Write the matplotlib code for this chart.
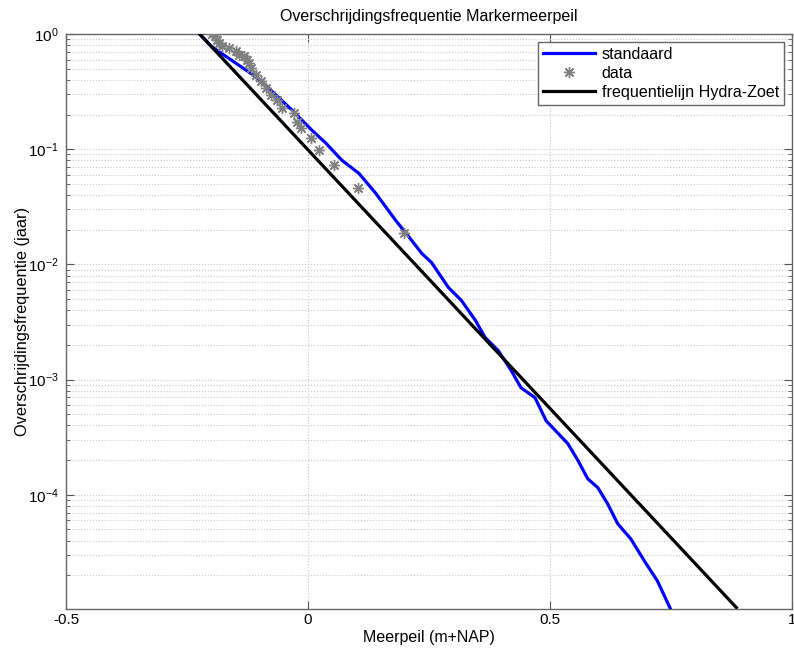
#!/usr/bin/env python3
# -*- coding: utf-8 -*-
'''
Overschrijdingsfrequentie Markermeerpeil
'''
import matplotlib
matplotlib.use("Agg")
import matplotlib.pyplot as plt
from matplotlib.ticker import FixedLocator, LogLocator, NullFormatter
import numpy as np

#************************************
# Data
#************************************
# standaard (blue), x in m+NAP, log10 of frequentie
std_x = [-0.224, -0.198, -0.107, -0.066, -0.033, 0.008, 0.037, 0.070, 0.105,
         0.140, 0.181, 0.214, 0.235, 0.255, 0.276, 0.290, 0.317, 0.346,
         0.366, 0.393, 0.420, 0.440, 0.469, 0.492, 0.537, 0.558, 0.578,
         0.599, 0.619, 0.640, 0.667, 0.695, 0.722, 0.749]
std_lf = [0.0, -0.113, -0.374, -0.530, -0.661, -0.835, -0.948, -1.096, -1.209,
          -1.383, -1.617, -1.791, -1.904, -1.983, -2.113, -2.200, -2.313, -2.487,
          -2.635, -2.748, -2.922, -3.070, -3.157, -3.357, -3.557, -3.704, -3.861,
          -3.939, -4.078, -4.252, -4.383, -4.574, -4.748, -4.991]

# data (grey asterisks)
data_x = [-0.198, -0.193, -0.189, -0.183, -0.177, -0.163, -0.148, -0.142, -0.132,
          -0.126, -0.121, -0.117, -0.107, -0.097, -0.086, -0.076, -0.064, -0.053,
          -0.029, -0.023, -0.014, 0.006, 0.023, 0.053, 0.103, 0.198]
data_lf = [0.0, -0.017, -0.052, -0.078, -0.104, -0.122, -0.148, -0.183, -0.191,
           -0.226, -0.252, -0.296, -0.357, -0.409, -0.470, -0.530, -0.574, -0.643,
           -0.687, -0.765, -0.817, -0.904, -1.009, -1.139, -1.339, -1.730]

# frequentielijn Hydra-Zoet (black), end points
hz_x = [-0.224, 0.885]
hz_f = [1.0, 1.05e-5]

#************************************
# Plot
#************************************
def main():
    plt.rcParams['font.family'] = ['Liberation Sans', 'DejaVu Sans']
    plt.rcParams['font.size'] = 11

    fig = plt.figure(figsize=(7.94, 6.55), dpi=100)
    ax = fig.add_axes([66/794, 1-609/655, (792-66)/794, (609-34)/655])

    ax.plot(std_x, 10**np.array(std_lf), color=(0, 0, 1), lw=2.3,
            label='standaard', zorder=3)
    ax.plot(data_x, 10**np.array(data_lf), ls='none', marker=(8, 2, 0),
            ms=8, mec=(0.5, 0.5, 0.5), mew=1.0, color=(0.5, 0.5, 0.5),
            label='data', zorder=4)
    ax.plot(hz_x, hz_f, color='k', lw=2.3, label='frequentielijn Hydra-Zoet',
            zorder=5)

    ax.set_yscale('log')
    ax.set_xlim(-0.5, 1)
    ax.set_ylim(1.02e-5, 1)
    ax.set_xticks([-0.5, 0, 0.5, 1])
    ax.set_xticklabels(['-0.5', '0', '0.5', '1'])
    ax.yaxis.set_major_locator(FixedLocator([1e-4, 1e-3, 1e-2, 1e-1, 1e0]))
    ax.yaxis.set_minor_locator(LogLocator(base=10, subs=np.arange(2, 10)))
    ax.yaxis.set_minor_formatter(NullFormatter())

    ax.grid(True, which='major', axis='both', color='#c8c8c8', ls=':', lw=0.8)
    ax.grid(True, which='minor', axis='y', color='#c8c8c8', ls=':', lw=0.8)
    ax.set_axisbelow(True)

    ax.tick_params(which='both', direction='in', top=True, right=True,
                   color='#555555', labelsize=11)
    ax.tick_params(axis='x', pad=3)
    ax.tick_params(axis='y', pad=5)
    ax.tick_params(which='major', length=6)
    ax.tick_params(which='minor', length=3)
    for s in ax.spines.values():
        s.set_color('#666666')
        s.set_linewidth(1.0)

    ax.set_title('Overschrijdingsfrequentie Markermeerpeil', fontsize=11.5, pad=9)
    ax.set_xlabel('Meerpeil (m+NAP)', fontsize=11.5, labelpad=2)
    ax.set_ylabel('Overschrijdingsfrequentie (jaar)', fontsize=11.8, labelpad=-1)

    leg = ax.legend(loc='upper right', fontsize=11.6, fancybox=False,
                    framealpha=1, edgecolor='#666666', handlelength=3.2,
                    handletextpad=0.45, labelspacing=0.25, borderaxespad=0.5,
                    borderpad=0.3)
    leg.get_frame().set_linewidth(1.0)

    fig.savefig('out.png', dpi=100)
    plt.close(fig)

if __name__ == "__main__":
    main()
